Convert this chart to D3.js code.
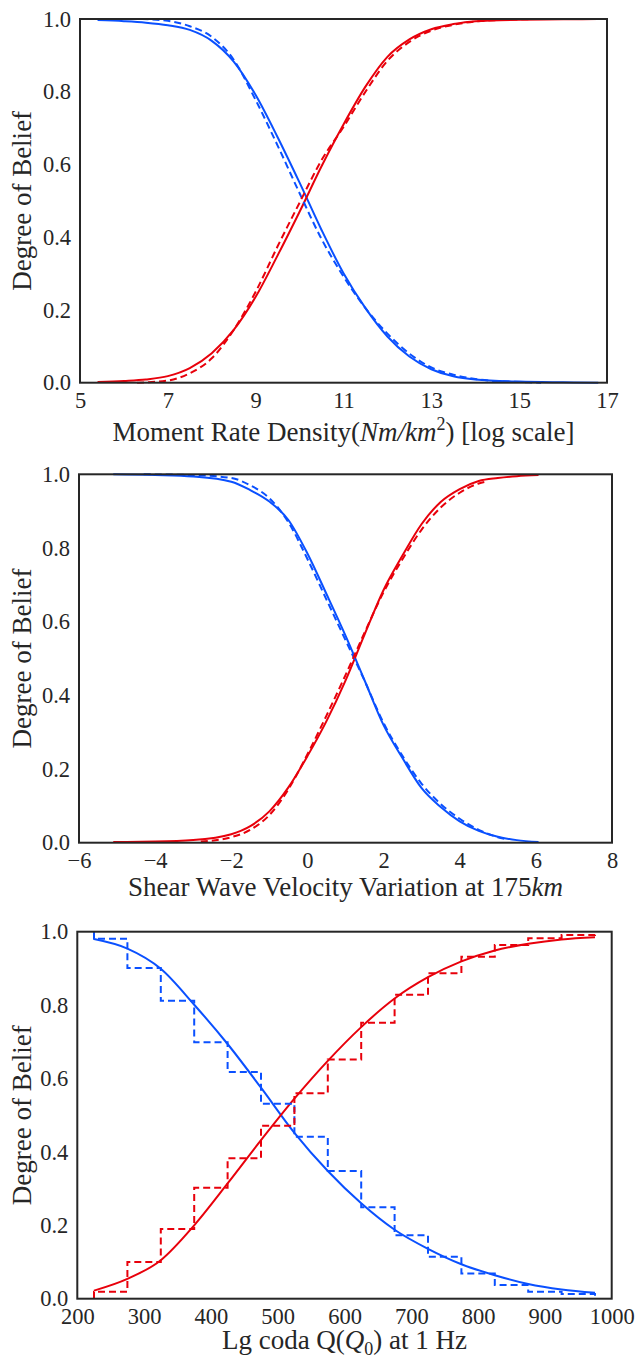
<!DOCTYPE html>
<html>
<head>
<meta charset="utf-8">
<script src="https://cdn.jsdelivr.net/npm/d3@7"></script>
<style>
  body { margin: 0; background: #fff; }
  svg text { font-family: "Liberation Serif", "Times New Roman", serif; fill: #262626; }
</style>
</head>
<body>
<svg width="637" height="1359"></svg>
<script>
// ---- panel 1: moment rate density ----
const p1X       = [5.4, 6, 6.5, 7, 7.5, 8, 8.5, 9, 9.5, 10, 10.5, 11, 11.5, 12, 12.5, 13, 13.5, 14, 15, 16, 16.8];
const p1Blue    = [0.997, 0.994, 0.99, 0.983, 0.97, 0.94, 0.883, 0.791, 0.675, 0.55, 0.42, 0.301, 0.205, 0.127, 0.072, 0.037, 0.018, 0.009, 0.003, 0.001, 0.0];
const p1Red     = [0.002, 0.005, 0.009, 0.018, 0.04, 0.081, 0.145, 0.236, 0.35, 0.47, 0.595, 0.71, 0.814, 0.896, 0.944, 0.972, 0.986, 0.994, 0.998, 0.999, 1.0];
const p1BlueDX  = [6.4, 7, 7.5, 8, 8.5, 9, 9.5, 10, 10.5, 11, 11.5, 12, 12.5, 13, 13.5, 14, 14.5, 15, 15.5];
const p1BlueD   = [1.0, 0.995, 0.98, 0.951, 0.888, 0.777, 0.652, 0.521, 0.395, 0.292, 0.205, 0.135, 0.08, 0.042, 0.022, 0.01, 0.004, 0.002, 0.0];
const p1RedDX   = [6.3, 7, 7.5, 8, 8.5, 9, 9.5, 10, 10.5, 11, 11.5, 12, 12.5, 13, 13.5, 14, 15, 15.5];
const p1RedD    = [0.0, 0.006, 0.026, 0.067, 0.145, 0.25, 0.375, 0.495, 0.612, 0.703, 0.8, 0.885, 0.937, 0.968, 0.984, 0.993, 0.999, 1.0];
const p1Ticks   = [5, 7, 9, 11, 13, 15, 17];

// ---- panel 2: shear wave velocity ----
const p2X       = [-5.1, -4, -3, -2, -1.5, -1, -0.5, 0, 0.5, 1, 1.5, 2, 2.5, 3, 3.5, 4, 4.5, 5, 5.5, 6.07];
const p2Blue    = [1.0, 0.998, 0.994, 0.98, 0.957, 0.926, 0.876, 0.785, 0.675, 0.562, 0.441, 0.319, 0.229, 0.148, 0.097, 0.058, 0.032, 0.016, 0.007, 0.002];
const p2Red     = [0.002, 0.003, 0.007, 0.023, 0.045, 0.085, 0.15, 0.235, 0.33, 0.44, 0.565, 0.686, 0.78, 0.865, 0.925, 0.96, 0.982, 0.99, 0.995, 0.998];
const p2BlueDX  = [-4.3, -3, -2, -1.5, -1, -0.5, 0, 0.5, 1, 1.5, 2, 2.5, 3, 3.5, 4, 4.5, 5, 5.2];
const p2BlueD   = [1.0, 0.998, 0.99, 0.97, 0.935, 0.87, 0.77, 0.66, 0.55, 0.44, 0.325, 0.235, 0.16, 0.105, 0.065, 0.035, 0.015, 0.01];
const p2RedDX   = [-2.8, -2, -1.5, -1, -0.5, 0, 0.5, 1, 1.5, 2, 2.5, 3, 3.5, 4, 4.5, 4.7];
const p2RedD    = [0.003, 0.015, 0.035, 0.075, 0.145, 0.24, 0.345, 0.455, 0.57, 0.68, 0.77, 0.85, 0.91, 0.95, 0.975, 0.98];
const p2Ticks   = [-6, -4, -2, 0, 2, 4, 6, 8];

// ---- panel 3: Lg coda Q ----
const p3X       = [225, 275, 325, 375, 425, 475, 525, 575, 625, 675, 725, 775, 825, 875, 925, 975];
const p3Blue    = [0.98, 0.954, 0.899, 0.801, 0.694, 0.575, 0.452, 0.348, 0.26, 0.188, 0.136, 0.094, 0.064, 0.04, 0.025, 0.016];
const p3Red     = [0.022, 0.054, 0.105, 0.2, 0.314, 0.432, 0.545, 0.648, 0.74, 0.818, 0.876, 0.919, 0.949, 0.967, 0.979, 0.985];
const p3Edges   = [225, 275, 325, 375, 425, 475, 525, 575, 625, 675, 725, 775, 825, 875, 925, 975];
const p3BlueBin = [0.981, 0.901, 0.812, 0.699, 0.618, 0.531, 0.441, 0.348, 0.249, 0.173, 0.114, 0.069, 0.037, 0.019, 0.013];
const p3RedBin  = [0.019, 0.1, 0.19, 0.302, 0.383, 0.471, 0.56, 0.652, 0.752, 0.828, 0.887, 0.932, 0.964, 0.982, 0.991];
const p3Ticks   = [200, 300, 400, 500, 600, 700, 800, 900, 1000];

const yTicks = [0, 0.2, 0.4, 0.6, 0.8, 1.0];

const blue = "#0a50ff";
const red = "#e8000b";
const ink = "#262626";
const serif = "'Liberation Serif', 'Times New Roman', serif";

const svg = d3.select("svg");

const zip = (xs, ys) => xs.map((x, i) => [x, ys[i]]);

// step outline: starts at `first`, one level per bin, ends at `last`
function stepPoints(edges, levels, first, last) {
	const pts = [[edges[0], first]];
	levels.forEach((v, i) => pts.push([edges[i], v]));
	pts.push([edges[edges.length - 1], last]);
	return pts;
}

const panels = [
	{
		box: { left: 80, right: 607, top: 19, bottom: 382.7 },
		domain: [5, 17], ticks: p1Ticks,
		solid: [[zip(p1X, p1Blue), blue], [zip(p1X, p1Red), red]],
		dashed: [[zip(p1BlueDX, p1BlueD), blue], [zip(p1RedDX, p1RedD), red]],
		step: false,
		label: t => {
			t.append("tspan").text("Moment Rate Density(");
			t.append("tspan").attr("font-style", "italic").text("Nm/km");
			t.append("tspan").style("font-size", "18px").attr("dy", -11).text("2");
			t.append("tspan").attr("dy", 11).text(") [log scale]");
		},
		labelDy: 58
	},
	{
		box: { left: 79, right: 612, top: 474.3, bottom: 842.7 },
		domain: [-6, 8], ticks: p2Ticks,
		solid: [[zip(p2X, p2Blue), blue], [zip(p2X, p2Red), red]],
		dashed: [[zip(p2BlueDX, p2BlueD), blue], [zip(p2RedDX, p2RedD), red]],
		step: false,
		label: t => {
			t.append("tspan").text("Shear Wave Velocity Variation at 175");
			t.append("tspan").attr("font-style", "italic").text("km");
		},
		labelDy: 53
	},
	{
		box: { left: 77.3, right: 611.7, top: 931.7, bottom: 1298.7 },
		domain: [200, 1000], ticks: p3Ticks,
		solid: [[zip(p3X, p3Blue), blue], [zip(p3X, p3Red), red]],
		dashed: [[stepPoints(p3Edges, p3BlueBin, 1, 0), blue], [stepPoints(p3Edges, p3RedBin, 0, 1), red]],
		step: true,
		label: t => {
			t.append("tspan").text("Lg coda Q(");
			t.append("tspan").attr("font-style", "italic").text("Q");
			t.append("tspan").style("font-size", "18px").attr("dy", 6).text("0");
			t.append("tspan").attr("dy", -6).text(") at 1 Hz");
		},
		labelDy: 50
	}
];

panels.forEach(p => {
	const b = p.box;
	const x = d3.scaleLinear().domain(p.domain).range([b.left, b.right]);
	const y = d3.scaleLinear().domain([0, 1]).range([b.bottom, b.top]);

	const g = svg.append("g");

	const smooth = d3.line()
		.x(d => x(d[0]))
		.y(d => y(d[1]))
		.curve(d3.curveMonotoneX);

	const stepped = d3.line()
		.x(d => x(d[0]))
		.y(d => y(d[1]))
		.curve(d3.curveStepAfter);

	p.solid.forEach(([pts, c]) => {
		g.append("path")
			.attr("d", smooth(pts))
			.attr("fill", "none")
			.attr("stroke", c)
			.attr("stroke-width", 2);
	});

	p.dashed.forEach(([pts, c]) => {
		g.append("path")
			.attr("d", (p.step ? stepped : smooth)(pts))
			.attr("fill", "none")
			.attr("stroke", c)
			.attr("stroke-width", 2)
			.attr("stroke-dasharray", "7,4");
	});

	// frame
	g.append("rect")
		.attr("x", b.left)
		.attr("y", b.top)
		.attr("width", b.right - b.left)
		.attr("height", b.bottom - b.top)
		.attr("fill", "none")
		.attr("stroke", ink)
		.attr("stroke-width", 2);

	const xAxis = g.append("g")
		.attr("transform", `translate(0, ${b.bottom})`)
		.call(d3.axisBottom(x).tickValues(p.ticks).tickFormat(d3.format("d")).tickSize(0).tickPadding(9));
	const yAxis = g.append("g")
		.attr("transform", `translate(${b.left}, 0)`)
		.call(d3.axisLeft(y).tickValues(yTicks).tickFormat(d3.format(".1f")).tickSize(0).tickPadding(9));

	[xAxis, yAxis].forEach(a => {
		a.attr("font-family", serif).attr("font-size", 22.5);
		a.select(".domain").remove();
		a.selectAll("text")
			.attr("fill", ink)
			.style("font-family", serif)
			.style("font-size", "22.5px");
	});

	const xl = g.append("text")
		.attr("x", (b.left + b.right) / 2)
		.attr("y", b.bottom + p.labelDy)
		.attr("text-anchor", "middle")
		.style("font-family", serif)
		.style("font-size", "27px");
	p.label(xl);

	g.append("text")
		.attr("transform", `translate(31, ${(b.top + b.bottom) / 2}) rotate(-90)`)
		.attr("text-anchor", "middle")
		.style("font-family", serif)
		.style("font-size", "27px")
		.text("Degree of Belief");
});
</script>
</body>
</html>
